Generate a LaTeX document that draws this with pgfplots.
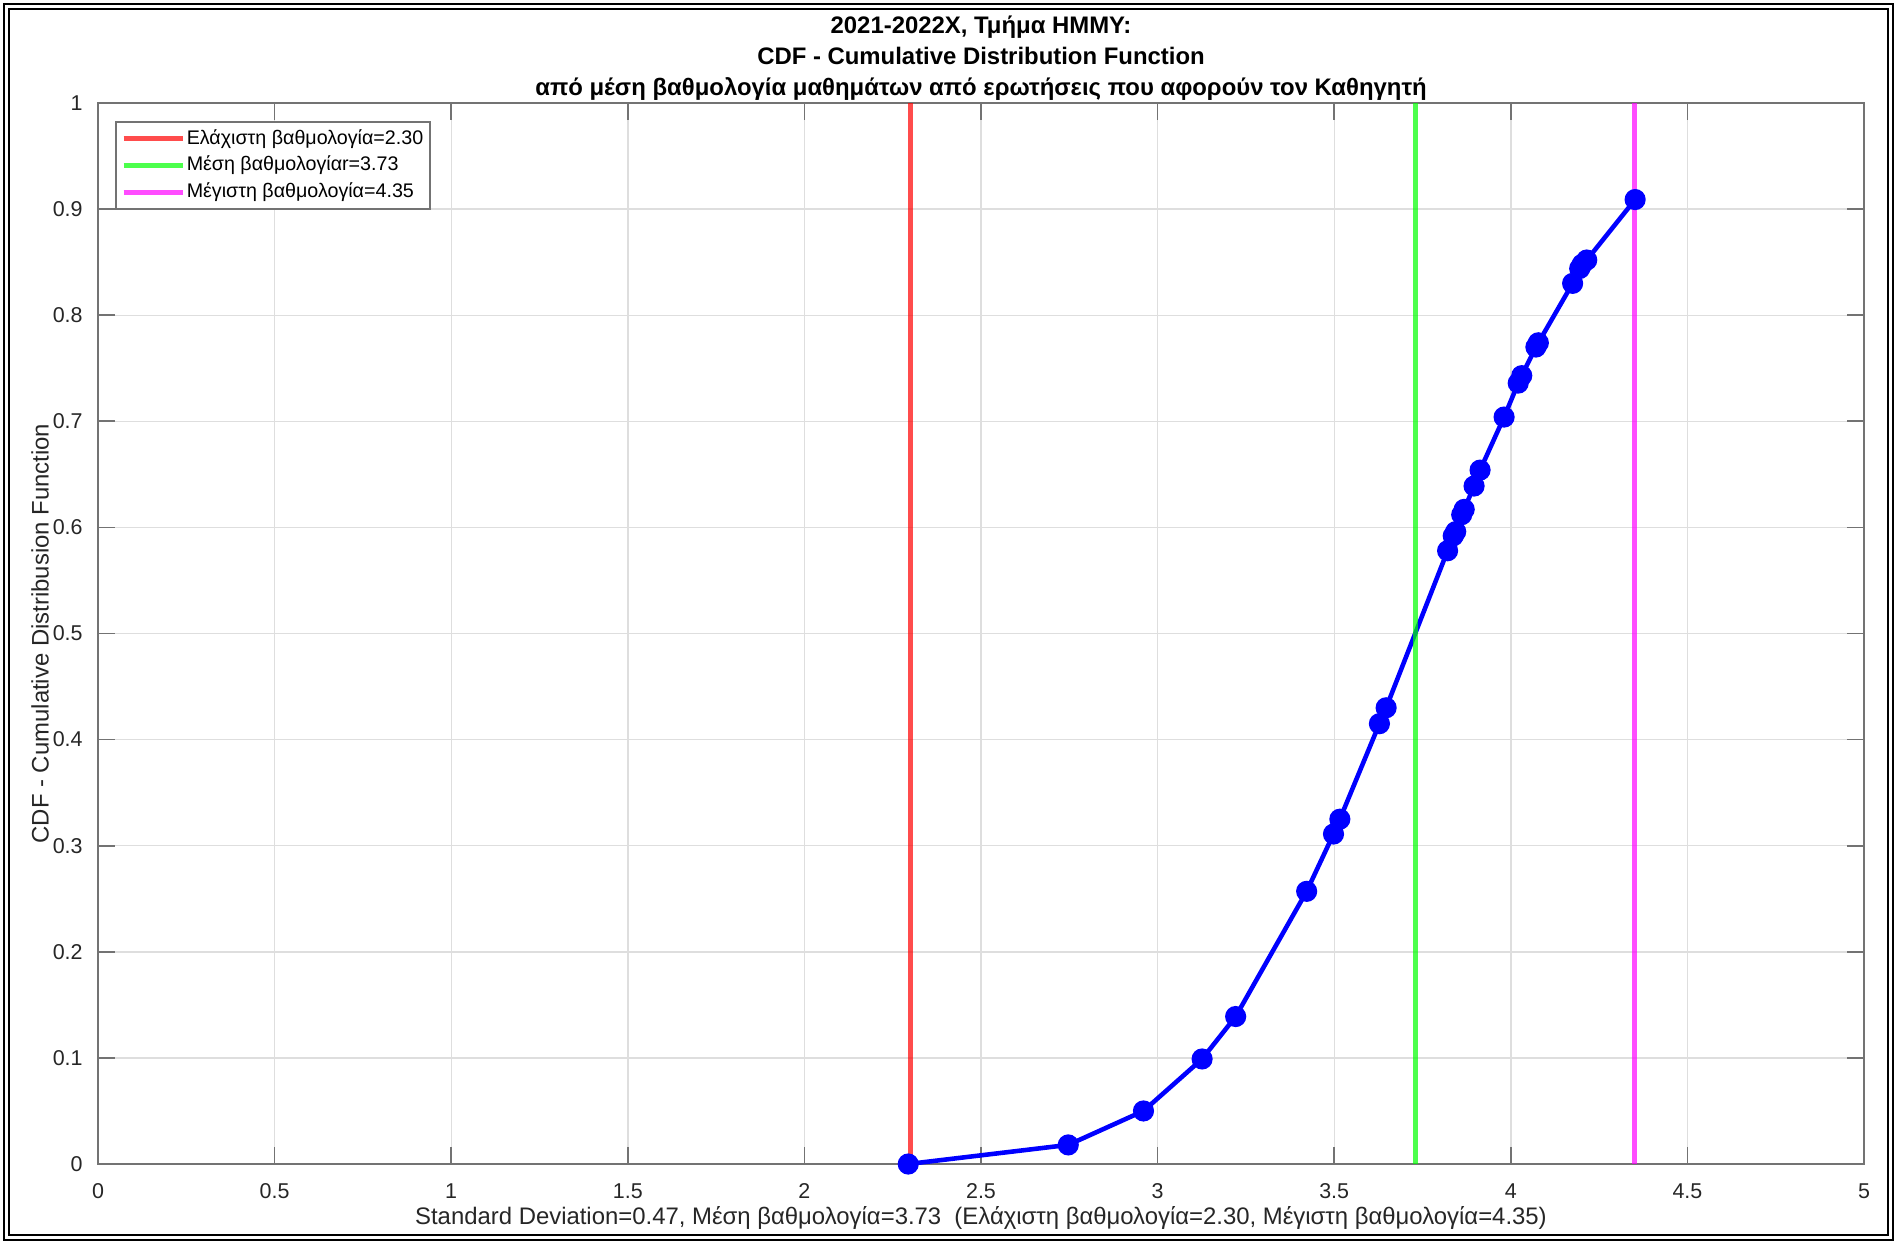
\documentclass[border=0pt]{standalone}
\usepackage{fontspec}
\setmainfont{Liberation Sans}
\usepackage{pgfplots}
\pgfplotsset{compat=1.18}

\definecolor{axgray}{rgb}{0.15,0.15,0.15}
\definecolor{linegray}{rgb}{0.45,0.45,0.45}
\definecolor{gridgray}{rgb}{0.87,0.87,0.87}
\definecolor{minred}{rgb}{1,0,0}
\definecolor{meangreen}{rgb}{0,1,0}
\definecolor{maxmag}{rgb}{1,0,1}

\newcommand{\tfs}{\fontsize{6.1}{7}\selectfont}
\newcommand{\lfs}{\fontsize{6.8}{8}\selectfont}
\newcommand{\gfs}{\fontsize{5.6}{7}\selectfont}

\begin{document}
\begin{tikzpicture}
\useasboundingbox (0,0) rectangle (18.97cm,12.43cm);
% figure frame
\draw[line width=0.2mm] (0.04cm,0.03cm) rectangle (18.93cm,12.39cm);
\draw[line width=0.2mm] (0.09cm,0.08cm) rectangle (18.88cm,12.34cm);
\begin{axis}[
  at={(0.98cm,0.79cm)}, anchor=south west,
  scale only axis, width=17.66cm, height=10.61cm,
  xmin=0, xmax=5, ymin=0, ymax=1,
  xtick={0,0.5,1,1.5,2,2.5,3,3.5,4,4.5,5},
  ytick={0,0.1,0.2,0.3,0.4,0.5,0.6,0.7,0.8,0.9,1},
  /pgf/number format/assume math mode=true,
  /pgf/number format/fixed,
  tick label style={font=\tfs, text=axgray},
  xticklabel style={yshift=-0.7mm},
  yticklabel style={xshift=-0.3mm},
  tick align=inside, major tick length=1.7mm,
  tick style={linegray, line width=0.5pt},
  axis line style={linegray, line width=0.6pt},
  grid=major, grid style={gridgray, line width=0.4pt},
  title={2021-2022Χ, Τμήμα ΗΜΜΥ:\\CDF - Cumulative Distribution Function\\από μέση βαθμολογία μαθημάτων από ερωτήσεις που αφορούν τον Καθηγητή},
  title style={anchor=south, inner sep=0pt, yshift=-1.9mm, align=center,
    font=\bfseries\fontsize{6.8}{8.8}\selectfont},
  xlabel={Standard Deviation=0.47, Μέση βαθμολογία=3.73~ (Ελάχιστη βαθμολογία=2.30, Μέγιστη βαθμολογία=4.35)},
  xlabel style={at={(axis description cs:0.5,-0.0509)}, anchor=center, font=\lfs, text=axgray},
  ylabel={CDF - Cumulative Distribusion Function},
  ylabel style={at={(axis description cs:-0.0328,0.5)}, anchor=center, font=\lfs, text=axgray},
  legend style={at={(axis description cs:0.0096,0.983)}, anchor=north west,
    font=\gfs, draw=linegray, line width=0.5pt, fill=white, inner sep=1.5pt, row sep=1pt,
    nodes={inner sep=0.5pt, text height=4.3pt, text depth=1.3pt}},
  legend cell align=left,
  legend image code/.code={\draw[#1, line width=1.4pt] (0mm,0mm) -- (5.9mm,0mm);},
]
\addplot[blue, line width=1.3pt, mark=*, mark size=2.35pt, mark options={fill=blue, draw=blue}, forget plot] coordinates {
  (2.294,0) (2.747,0.018) (2.960,0.050) (3.126,0.099) (3.221,0.139)
  (3.422,0.257) (3.498,0.311) (3.516,0.325) (3.628,0.415) (3.647,0.430)
  (3.821,0.578) (3.837,0.592) (3.844,0.596) (3.861,0.612) (3.868,0.617)
  (3.896,0.639) (3.913,0.654) (3.981,0.704) (4.021,0.736) (4.031,0.743)
  (4.071,0.770) (4.078,0.774) (4.175,0.830) (4.195,0.844) (4.202,0.848)
  (4.215,0.852) (4.352,0.909)
};
\addplot[minred, draw opacity=0.7, line width=1.4pt] coordinates {(2.30,0) (2.30,1)};
\addlegendentry{Ελάχιστη βαθμολογία=2.30}
\addplot[meangreen, draw opacity=0.7, line width=1.4pt] coordinates {(3.73,0) (3.73,1)};
\addlegendentry{Μέση βαθμολογίαr=3.73}
\addplot[maxmag, draw opacity=0.7, line width=1.4pt] coordinates {(4.35,0) (4.35,1)};
\addlegendentry{Μέγιστη βαθμολογία=4.35}
\end{axis}
\end{tikzpicture}
\end{document}
